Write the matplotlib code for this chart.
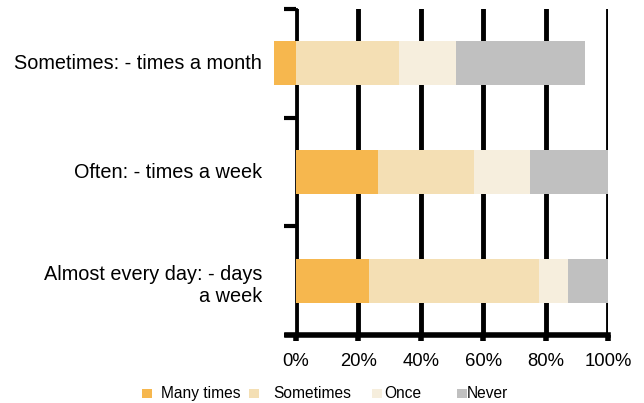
import matplotlib
matplotlib.use("Agg")
import matplotlib.pyplot as plt
from matplotlib.patches import Rectangle
import matplotlib.transforms as mtransforms
import numpy as np

plt.rcParams['font.family'] = ['Liberation Sans', 'DejaVu Sans']

categories = ["Sometimes: - times a month", "Often: - times a week", "Almost every day: - days\na week"]
series_names = ["Many times", "Sometimes", "Once", "Never"]
many_times = [-6.9, 26.3, 23.4]
sometimes = [33.0, 30.7, 54.4]
once = [18.3, 18.0, 9.3]
never = [41.2, 25.0, 12.9]
colors = ["#F6B74E", "#F4DFB4", "#F6EEDD", "#C0C0C0"]
xticks = [0, 20, 40, 60, 80, 100]
xticklabels = ["0%", "20%", "40%", "60%", "80%", "100%"]

W, H = 644, 403
fig = plt.figure(figsize=(6.44, 4.03), dpi=100)
ax = fig.add_axes([296/W, 1-335/H, 312/W, 326/H])

y = np.arange(len(categories))[::-1]
series = [many_times, sometimes, once, never]
pos_left = np.zeros(len(categories))
neg_left = np.zeros(len(categories))
for vals, col, name in zip(series, colors, series_names):
    vals = np.array(vals, dtype=float)
    left = np.where(vals >= 0, pos_left, neg_left)
    ax.barh(y, vals, left=left, height=0.405, color=col, label=name, clip_on=False, zorder=3)
    pos_left = pos_left + np.where(vals >= 0, vals, 0)
    neg_left = neg_left + np.where(vals < 0, vals, 0)

ax.set_xlim(0, 100)
ax.set_ylim(-0.5, 2.5)
ax.set_xticks(xticks)
ax.set_xticklabels(xticklabels, fontsize=13.3)
ax.set_yticks(y)
ax.set_yticklabels([""] * len(categories))
# category labels as text next to the axis
ytrans = ax.get_yaxis_transform()
for yi, cat in zip(y, categories):
    dy = -5/100 if "\n" in cat else 0
    off = mtransforms.ScaledTranslation(-34/100, dy, fig.dpi_scale_trans)
    ax.text(0, yi, cat, transform=ytrans + off, ha='right', va='center',
            fontsize=14.3, linespacing=1.2, multialignment='right')
ax.set_yticks([-0.5, 0.5, 1.5, 2.5], minor=True)
ax.tick_params(axis='y', which='major', length=0)
ax.tick_params(axis='y', which='minor', length=9, width=3, color='black')
ax.tick_params(axis='x', which='major', length=4, width=4, pad=9)
ax.grid(axis='x', color='black', linewidth=3.5, zorder=1)
ax.set_axisbelow(True)
for s in ['top', 'right']:
    ax.spines[s].set_visible(False)
ax.spines['left'].set_linewidth(2)
ax.spines['bottom'].set_linewidth(4)
ax.spines['bottom'].set_bounds(-3, 100)

# legend, drawn manually
sq_x = [142, 249, 372, 457]
txt_x = [161, 273, 384, 467]
ly = 393.5
for c, name, sx, tx in zip(colors, series_names, sq_x, txt_x):
    fig.add_artist(Rectangle((sx/W, 1-(ly+4.5)/H), 10/W, 9/H, facecolor=c, edgecolor='none',
                             transform=fig.transFigure))
    fig.text(tx/W, 1-ly/H, name, ha='left', va='center', fontsize=11.2)

fig.savefig("out.png", dpi=100)
